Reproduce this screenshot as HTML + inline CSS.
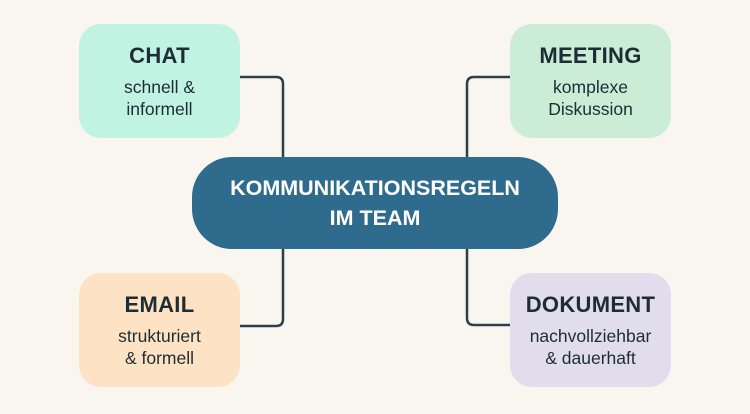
<!DOCTYPE html>
<html><head><meta charset="utf-8"><style>
body{margin:0;width:750px;height:414px;background:#f9f6ef;position:relative;overflow:hidden;font-family:"Liberation Sans",sans-serif;}
.b{position:absolute;width:161px;height:114px;border-radius:22px;display:flex;flex-direction:column;align-items:center;justify-content:center;text-align:center;color:#1d2c35;}
.b h{display:block;font-weight:bold;font-size:22px;margin-bottom:7px;letter-spacing:0.3px}
.b s{display:block;text-decoration:none;font-size:17.5px;line-height:22px}
#c{position:absolute;left:192px;top:157px;width:366px;height:92px;border-radius:40px;background:#2f6b8d;color:#fff;font-weight:bold;font-size:21.5px;line-height:30px;display:flex;align-items:center;justify-content:center;text-align:center;}
</style></head><body>
<svg width="750" height="414" style="position:absolute;left:0;top:0">
<g fill="none" stroke="#2d3f4b" stroke-width="2.5">
<path d="M240 77 H276 Q283 77 283 84 V157"/>
<path d="M283 249 V319 Q283 326 276 326 H240"/>
<path d="M510 77 H474 Q467 77 467 84 V157"/>
<path d="M467 249 V318 Q467 325 474 325 H510"/>
</g></svg>
<div class="b" style="left:79px;top:24px;background:#c1f3e2"><h>CHAT</h><s>schnell &amp;<br>informell</s></div>
<div class="b" style="left:510px;top:24px;background:#cbecd5"><h>MEETING</h><s>komplexe<br>Diskussion</s></div>
<div class="b" style="left:79px;top:273px;background:#fde3c4"><h>EMAIL</h><s>strukturiert<br>&amp; formell</s></div>
<div class="b" style="left:510px;top:273px;background:#e2ddec"><h>DOKUMENT</h><s>nachvollziehbar<br>&amp; dauerhaft</s></div>
<div id="c">KOMMUNIKATIONSREGELN<br>IM TEAM</div>
</body></html>
